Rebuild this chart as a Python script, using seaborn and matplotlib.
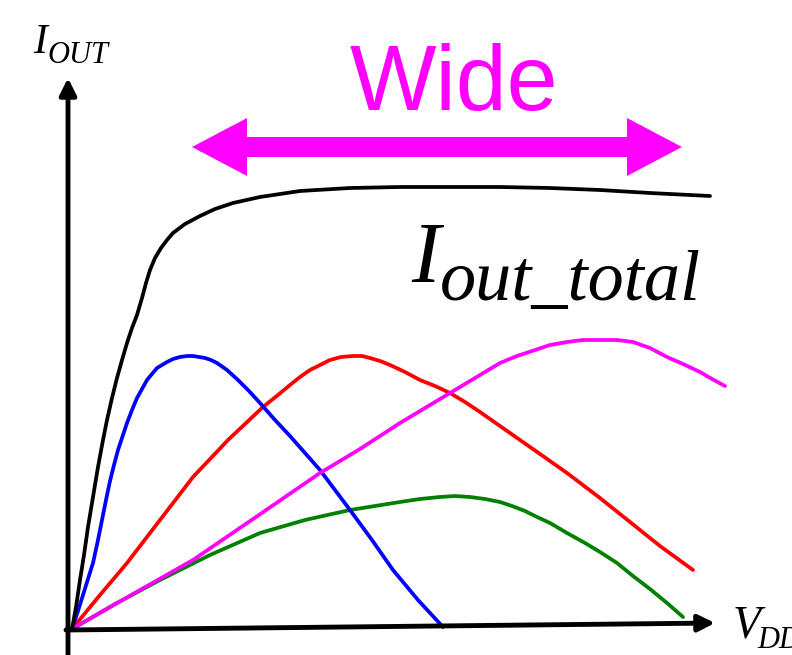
import numpy as np
import pandas as pd
import matplotlib
matplotlib.use("Agg")
import matplotlib.pyplot as plt
from matplotlib.patches import FancyArrow
import seaborn as sns

# curves (V = VDD, I = IOUT, arbitrary units)
v_blue = [0, 6, 11, 16, 21, 26, 30, 34, 38, 42, 46, 51, 55, 60, 65, 70, 75, 80, 85, 90, 95, 101,
          108, 115, 121, 127, 133, 139, 145, 155, 166, 177, 188, 203, 218, 233, 248, 263, 278,
          300, 321, 346, 371]
i_blue = [0, 18, 34, 50, 66, 89, 109, 129, 148, 164, 179, 194, 206, 219, 231, 240, 249, 255, 261,
          264, 267, 270, 272, 273, 273, 272, 271, 269, 266, 259, 249, 238, 226, 209, 193, 176,
          159, 139, 119, 89, 59, 29, 2]

v_red = [0, 28, 55, 88, 121, 156, 191, 206, 218, 228, 238, 248, 258, 269, 281, 290, 298, 308,
         318, 333, 348, 363, 378, 393, 408, 438, 468, 495, 528, 558, 588, 621]
i_red = [0, 34, 66, 109, 152, 189, 222, 234, 244, 252, 259, 264, 269, 272, 273, 273, 271, 268,
         264, 257, 249, 243, 236, 227, 217, 196, 175, 156, 131, 107, 83, 59]

v_mag = [0, 61, 121, 184, 248, 288, 328, 358, 388, 408, 428, 445, 463, 478, 495, 511, 528, 545,
         561, 578, 595, 611, 628, 640, 653]
i_mag = [0, 35, 69, 112, 156, 180, 206, 224, 242, 254, 266, 273, 279, 284, 287, 289, 289, 289,
         287, 281, 272, 265, 257, 250, 243]

v_green = [0, 43, 88, 138, 188, 233, 278, 303, 328, 348, 368, 383, 398, 413, 428, 440, 453, 465,
           478, 495, 513, 528, 545, 561, 578, 595, 611]
i_green = [0, 25, 49, 74, 96, 109, 119, 123, 127, 130, 132, 133, 132, 130, 127, 123, 118, 112,
           106, 96, 86, 77, 66, 53, 40, 26, 12]

v_total = [0, 4, 8, 12, 16, 21, 26, 31, 35, 40, 45, 50, 55, 60, 65, 70, 74, 78, 83, 89, 95, 101,
           113, 128, 143, 161, 188, 228, 278, 328, 378, 428, 478, 528, 578, 638]
i_total = [0, 22, 49, 74, 102, 132, 162, 189, 209, 231, 251, 269, 286, 301, 314, 331, 346, 359,
           371, 381, 389, 396, 405, 413, 420, 426, 432, 438, 441, 442, 442, 442, 441, 439, 436, 433]

sns.set_style("white")

fig = plt.figure(figsize=(7.92, 6.55), dpi=100)
ax = fig.add_axes([0, 0, 1, 1])
ax.set_xlim(-72, 720)
ax.set_ylim(-26, 629)

curves = [
    (v_green, i_green, "#008000"),
    (v_red, i_red, "#FF0000"),
    (v_blue, i_blue, "#0000FF"),
    (v_mag, i_mag, "#FF00FF"),
    (v_total, i_total, "black"),
]
for v, i, c in curves:
    df = pd.DataFrame({"V": v, "I": i})
    sns.lineplot(data=df, x="V", y="I", color=c, lw=2.7, sort=False,
                 estimator=None, ax=ax, solid_joinstyle="round",
                 solid_capstyle="round")
ax.set_xlim(-72, 720)
ax.set_ylim(-26, 629)
ax.axis("off")

# axes with arrow heads
ax.annotate("", xy=(-4, 551), xytext=(-4, -26),
            arrowprops=dict(arrowstyle="-|>", lw=3.5, color="black",
                            mutation_scale=25, shrinkA=0, shrinkB=0))
ax.annotate("", xy=(643, 6), xytext=(-6, -1),
            arrowprops=dict(arrowstyle="-|>", lw=3.5, color="black",
                            mutation_scale=25, shrinkA=0, shrinkB=0))

# "Wide" double arrow
for d in (245, -245):
    ax.add_patch(FancyArrow(365, 482, d, 0, width=20, head_width=58,
                            head_length=55, length_includes_head=True,
                            color="#FF00FF", lw=0))
ax.text(382, 519, "Wide", color="#FF00FF", fontsize=66,
        family="Liberation Sans", ha="center", va="baseline")

serif = dict(family="Liberation Serif", style="italic", va="baseline",
             ha="left", color="black")
ax.text(-39, 576, "I", fontsize=30, **serif)
ax.text(-25, 566, "OUT", fontsize=22, **serif)
ax.text(339, 347, "I", fontsize=62, **serif)
ax.text(368, 329, "out_total", fontsize=52, **serif)
ax.text(661, -9, "V", fontsize=33, **serif)
ax.text(685, -19, "DD", fontsize=22, **serif)

fig.savefig("out.png", dpi=100)
